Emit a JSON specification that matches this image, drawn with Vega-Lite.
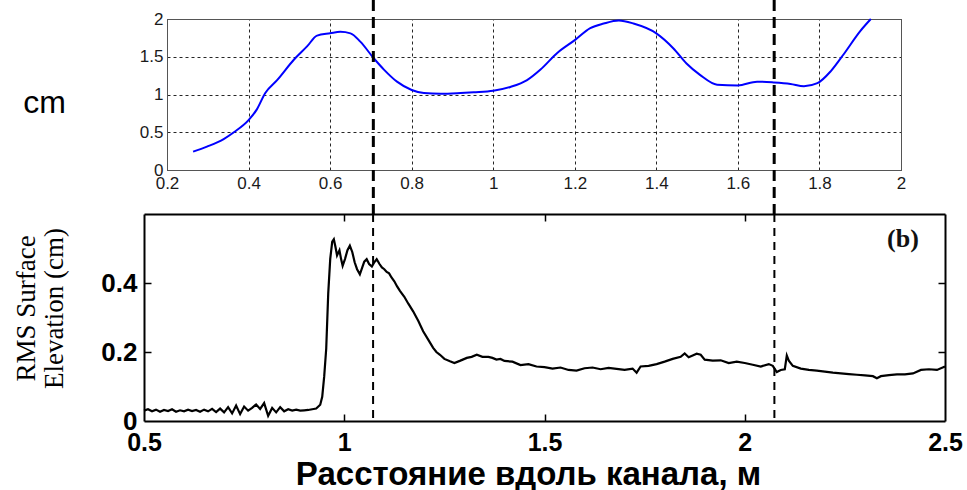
{
  "$schema": "https://vega.github.io/schema/vega-lite/v6.json",
  "width": 967,
  "height": 490,
  "autosize": {"type": "none"},
  "padding": 0,
  "background": "white",
  "config": {"view": {"stroke": null}},
  "datasets": {
    "top": [
      {"x": 0.264, "y": 0.243}, {"x": 0.298, "y": 0.31}, {"x": 0.339, "y": 0.41}, {"x": 0.364, "y": 0.5},
      {"x": 0.4, "y": 0.66}, {"x": 0.42, "y": 0.8}, {"x": 0.441, "y": 1.02}, {"x": 0.47, "y": 1.19},
      {"x": 0.511, "y": 1.46}, {"x": 0.544, "y": 1.64}, {"x": 0.568, "y": 1.78}, {"x": 0.6, "y": 1.81},
      {"x": 0.625, "y": 1.83}, {"x": 0.65, "y": 1.81}, {"x": 0.674, "y": 1.7}, {"x": 0.707, "y": 1.48},
      {"x": 0.732, "y": 1.33}, {"x": 0.764, "y": 1.17}, {"x": 0.8, "y": 1.06}, {"x": 0.83, "y": 1.02},
      {"x": 0.871, "y": 1.01}, {"x": 0.92, "y": 1.02}, {"x": 0.952, "y": 1.03}, {"x": 1.0, "y": 1.05},
      {"x": 1.042, "y": 1.1}, {"x": 1.083, "y": 1.19}, {"x": 1.116, "y": 1.33}, {"x": 1.157, "y": 1.55},
      {"x": 1.2, "y": 1.72}, {"x": 1.238, "y": 1.88}, {"x": 1.271, "y": 1.94}, {"x": 1.308, "y": 1.98},
      {"x": 1.344, "y": 1.94}, {"x": 1.4, "y": 1.81}, {"x": 1.442, "y": 1.61}, {"x": 1.474, "y": 1.41},
      {"x": 1.507, "y": 1.26}, {"x": 1.549, "y": 1.13}, {"x": 1.6, "y": 1.12}, {"x": 1.647, "y": 1.17},
      {"x": 1.687, "y": 1.16}, {"x": 1.729, "y": 1.14}, {"x": 1.762, "y": 1.11}, {"x": 1.795, "y": 1.15},
      {"x": 1.828, "y": 1.31}, {"x": 1.859, "y": 1.53}, {"x": 1.9, "y": 1.84}, {"x": 1.926, "y": 2.0}
    ],
    "bottom": [
      {"x": 0.5, "y": 0.03}, {"x": 0.51, "y": 0.034}, {"x": 0.52, "y": 0.028}, {"x": 0.53, "y": 0.033},
      {"x": 0.54, "y": 0.027}, {"x": 0.55, "y": 0.032}, {"x": 0.56, "y": 0.029}, {"x": 0.57, "y": 0.034},
      {"x": 0.58, "y": 0.027}, {"x": 0.59, "y": 0.031}, {"x": 0.6, "y": 0.028}, {"x": 0.61, "y": 0.033},
      {"x": 0.62, "y": 0.029}, {"x": 0.63, "y": 0.032}, {"x": 0.64, "y": 0.027}, {"x": 0.65, "y": 0.033},
      {"x": 0.66, "y": 0.028}, {"x": 0.67, "y": 0.035}, {"x": 0.68, "y": 0.026}, {"x": 0.69, "y": 0.036},
      {"x": 0.7, "y": 0.025}, {"x": 0.71, "y": 0.04}, {"x": 0.72, "y": 0.022}, {"x": 0.73, "y": 0.045},
      {"x": 0.74, "y": 0.02}, {"x": 0.75, "y": 0.042}, {"x": 0.76, "y": 0.03}, {"x": 0.77, "y": 0.038},
      {"x": 0.78, "y": 0.048}, {"x": 0.79, "y": 0.035}, {"x": 0.8, "y": 0.052}, {"x": 0.81, "y": 0.015},
      {"x": 0.82, "y": 0.038}, {"x": 0.83, "y": 0.025}, {"x": 0.84, "y": 0.04}, {"x": 0.85, "y": 0.028},
      {"x": 0.86, "y": 0.034}, {"x": 0.87, "y": 0.03}, {"x": 0.88, "y": 0.033}, {"x": 0.89, "y": 0.03},
      {"x": 0.9, "y": 0.031}, {"x": 0.91, "y": 0.032}, {"x": 0.92, "y": 0.034}, {"x": 0.93, "y": 0.036},
      {"x": 0.94, "y": 0.047}, {"x": 0.945, "y": 0.07}, {"x": 0.95, "y": 0.13}, {"x": 0.955, "y": 0.21},
      {"x": 0.96, "y": 0.37}, {"x": 0.965, "y": 0.47}, {"x": 0.97, "y": 0.52}, {"x": 0.974, "y": 0.527},
      {"x": 0.978, "y": 0.505}, {"x": 0.982, "y": 0.48}, {"x": 0.988, "y": 0.495}, {"x": 0.992, "y": 0.47},
      {"x": 0.996, "y": 0.45}, {"x": 1.002, "y": 0.47}, {"x": 1.008, "y": 0.495}, {"x": 1.014, "y": 0.508},
      {"x": 1.02, "y": 0.49}, {"x": 1.026, "y": 0.46}, {"x": 1.032, "y": 0.44}, {"x": 1.039, "y": 0.425},
      {"x": 1.045, "y": 0.445}, {"x": 1.05, "y": 0.462}, {"x": 1.056, "y": 0.469}, {"x": 1.062, "y": 0.455},
      {"x": 1.069, "y": 0.448}, {"x": 1.075, "y": 0.46}, {"x": 1.081, "y": 0.469}, {"x": 1.088, "y": 0.455},
      {"x": 1.094, "y": 0.445}, {"x": 1.1, "y": 0.44}, {"x": 1.106, "y": 0.432}, {"x": 1.112, "y": 0.428},
      {"x": 1.118, "y": 0.416}, {"x": 1.125, "y": 0.405}, {"x": 1.132, "y": 0.39}, {"x": 1.139, "y": 0.377},
      {"x": 1.15, "y": 0.36}, {"x": 1.16, "y": 0.34}, {"x": 1.172, "y": 0.318}, {"x": 1.185, "y": 0.29},
      {"x": 1.197, "y": 0.26}, {"x": 1.21, "y": 0.235}, {"x": 1.222, "y": 0.212}, {"x": 1.23, "y": 0.2},
      {"x": 1.239, "y": 0.192}, {"x": 1.25, "y": 0.18}, {"x": 1.264, "y": 0.173}, {"x": 1.275, "y": 0.168},
      {"x": 1.29, "y": 0.175}, {"x": 1.306, "y": 0.183}, {"x": 1.318, "y": 0.186}, {"x": 1.331, "y": 0.192},
      {"x": 1.345, "y": 0.186}, {"x": 1.36, "y": 0.186}, {"x": 1.37, "y": 0.183}, {"x": 1.38, "y": 0.178},
      {"x": 1.39, "y": 0.18}, {"x": 1.4, "y": 0.174}, {"x": 1.42, "y": 0.172}, {"x": 1.44, "y": 0.162},
      {"x": 1.46, "y": 0.165}, {"x": 1.48, "y": 0.158}, {"x": 1.5, "y": 0.156}, {"x": 1.52, "y": 0.152},
      {"x": 1.54, "y": 0.155}, {"x": 1.56, "y": 0.148}, {"x": 1.58, "y": 0.146}, {"x": 1.6, "y": 0.153},
      {"x": 1.62, "y": 0.155}, {"x": 1.64, "y": 0.15}, {"x": 1.66, "y": 0.154}, {"x": 1.68, "y": 0.151},
      {"x": 1.7, "y": 0.148}, {"x": 1.72, "y": 0.152}, {"x": 1.73, "y": 0.14}, {"x": 1.74, "y": 0.158},
      {"x": 1.76, "y": 0.16}, {"x": 1.78, "y": 0.165}, {"x": 1.8, "y": 0.172}, {"x": 1.82, "y": 0.18},
      {"x": 1.84, "y": 0.186}, {"x": 1.85, "y": 0.196}, {"x": 1.86, "y": 0.185}, {"x": 1.87, "y": 0.19},
      {"x": 1.88, "y": 0.195}, {"x": 1.89, "y": 0.192}, {"x": 1.9, "y": 0.178}, {"x": 1.92, "y": 0.175},
      {"x": 1.94, "y": 0.176}, {"x": 1.96, "y": 0.168}, {"x": 1.98, "y": 0.172}, {"x": 2.0, "y": 0.168},
      {"x": 2.02, "y": 0.163}, {"x": 2.04, "y": 0.158}, {"x": 2.06, "y": 0.165}, {"x": 2.07, "y": 0.16},
      {"x": 2.08, "y": 0.142}, {"x": 2.09, "y": 0.148}, {"x": 2.1, "y": 0.15}, {"x": 2.105, "y": 0.19},
      {"x": 2.11, "y": 0.175}, {"x": 2.12, "y": 0.16}, {"x": 2.14, "y": 0.152}, {"x": 2.16, "y": 0.148},
      {"x": 2.18, "y": 0.146}, {"x": 2.2, "y": 0.143}, {"x": 2.22, "y": 0.14}, {"x": 2.24, "y": 0.138},
      {"x": 2.26, "y": 0.136}, {"x": 2.28, "y": 0.134}, {"x": 2.3, "y": 0.132}, {"x": 2.32, "y": 0.13},
      {"x": 2.33, "y": 0.124}, {"x": 2.34, "y": 0.13}, {"x": 2.36, "y": 0.133}, {"x": 2.38, "y": 0.135},
      {"x": 2.4, "y": 0.135}, {"x": 2.42, "y": 0.138}, {"x": 2.44, "y": 0.148}, {"x": 2.46, "y": 0.15},
      {"x": 2.48, "y": 0.148}, {"x": 2.5, "y": 0.158}
    ],
    "rulesTop": [
      {"x": 0.706, "y": 2.252, "y2": -0.583},
      {"x": 1.689, "y": 2.252, "y2": -0.583}
    ],
    "rulesBottom": [
      {"x": 1.072, "y": 0.6, "y2": 0},
      {"x": 2.074, "y": 0.6, "y2": 0}
    ],
    "panelLabel": [{"x": 2.395, "y": 0.527, "label": "(b)"}]
  },
  "layer": [
    {
      "layer": [
        {
          "data": {"name": "top"},
          "mark": {"type": "line", "color": "#0000ff", "strokeWidth": 2, "interpolate": "monotone"},
          "encoding": {
            "x": {
              "field": "x", "type": "quantitative",
              "scale": {"domain": [0.2, 2], "range": [167, 901], "nice": false, "zero": false},
              "axis": {
                "orient": "bottom", "offset": -320, "values": [0.2, 0.4, 0.6, 0.8, 1, 1.2, 1.4, 1.6, 1.8, 2],
                "format": "~g", "title": null, "grid": false, "domainColor": "#555", "domainWidth": 1,
                "ticks": false, "labelPadding": 5, "labelFont": "Liberation Sans", "labelFontSize": 17,
                "labelColor": "#1a1a1a", "labelFlush": false, "labelOverlap": false
              }
            },
            "y": {
              "field": "y", "type": "quantitative",
              "scale": {"domain": [0, 2], "range": [170, 19], "nice": false, "zero": false},
              "axis": {
                "orient": "left", "offset": -167, "values": [0, 0.5, 1, 1.5, 2], "format": "~g",
                "grid": true, "gridColor": "#000", "gridDash": [3, 3], "gridWidth": 1, "gridOpacity": 0.85,
                "domainColor": "#555", "domainWidth": 1, "ticks": false, "labelPadding": 4,
                "labelFont": "Liberation Sans", "labelFontSize": 17, "labelColor": "#1a1a1a",
                "labelFlush": false, "labelOverlap": false,
                "title": "cm", "titleAngle": 0, "titleX": -123, "titleY": 112, "titleAlign": "center",
                "titleBaseline": "alphabetic", "titleFont": "Liberation Sans", "titleFontSize": 32,
                "titleFontWeight": "normal", "titleColor": "#000"
              }
            }
          }
        },
        {
          "data": {"name": "rulesTop"},
          "mark": {"type": "rule", "color": "#000", "strokeWidth": 3, "strokeDash": [11, 6]},
          "encoding": {
            "x": {
              "field": "x", "type": "quantitative",
              "axis": {"orient": "top", "offset": -19, "values": [0.2, 0.4, 0.6, 0.8, 1, 1.2, 1.4, 1.6, 1.8, 2],
                       "labels": false, "ticks": false, "grid": true, "gridColor": "#000", "gridDash": [3, 3],
                       "gridWidth": 1, "gridOpacity": 0.85,
                       "title": null, "domainColor": "#555", "domainWidth": 1}
            },
            "y": {
              "field": "y", "type": "quantitative",
              "axis": {"orient": "right", "offset": -66, "labels": false, "ticks": false, "grid": false,
                       "title": null, "domainColor": "#555", "domainWidth": 1}
            },
            "y2": {"field": "y2"}
          }
        }
      ],
      "resolve": {"axis": {"x": "independent", "y": "independent"}}
    },
    {
      "layer": [
        {
          "data": {"name": "bottom"},
          "mark": {"type": "line", "color": "#000", "strokeWidth": 2.2},
          "encoding": {
            "x": {
              "field": "x", "type": "quantitative",
              "scale": {"domain": [0.5, 2.5], "range": [144, 945], "nice": false, "zero": false},
              "axis": {
                "orient": "bottom", "offset": -69, "values": [0.5, 1, 1.5, 2, 2.5], "format": "~g",
                "grid": false, "domainColor": "#000", "domainWidth": 2, "ticks": false, "tickSize": 0,
                "labelPadding": 9, "labelFont": "Liberation Sans", "labelFontWeight": "bold",
                "labelFontSize": 25, "labelColor": "#000", "labelFlush": false, "labelOverlap": false,
                "title": "Расстояние вдоль канала, м", "titleFont": "Liberation Sans", "titleFontSize": 33,
                "titleFontWeight": "bold", "titleColor": "#000", "titleX": 528, "titleY": 63,
                "titleAlign": "center", "titleBaseline": "alphabetic"
              }
            },
            "y": {
              "field": "y", "type": "quantitative",
              "scale": {"domain": [0, 0.6], "range": [421, 214], "nice": false, "zero": false},
              "axis": {
                "orient": "left", "offset": -144, "values": [0, 0.2, 0.4], "format": "~g",
                "grid": false, "domainColor": "#000", "domainWidth": 2, "ticks": false, "tickSize": 0,
                "labelPadding": 7, "labelFont": "Liberation Sans", "labelFontWeight": "bold",
                "labelFontSize": 26, "labelColor": "#000", "labelFlush": false, "labelOverlap": false,
                "title": ["RMS Surface", "Elevation (cm)"], "titleFont": "Liberation Serif", "titleFontSize": 27,
                "titleFontWeight": "normal", "titleColor": "#000", "titleAngle": -90, "titleX": -118,
                "titleY": 308, "titleAlign": "center", "titleBaseline": "middle", "titleLineHeight": 28
              }
            }
          }
        },
        {
          "data": {"name": "rulesBottom"},
          "mark": {"type": "rule", "color": "#000", "strokeWidth": 2, "strokeDash": [8, 6]},
          "encoding": {
            "x": {
              "field": "x", "type": "quantitative",
              "axis": {"orient": "bottom", "offset": -276, "values": [1, 1.5, 2], "labels": false, "tickSize": 7,
                       "tickColor": "#000", "tickWidth": 1.5, "grid": false, "title": null,
                       "domainColor": "#000", "domainWidth": 2}
            },
            "y": {
              "field": "y", "type": "quantitative",
              "axis": {"orient": "left", "offset": -945, "values": [0.2, 0.4], "labels": false, "tickSize": 7,
                       "tickColor": "#000", "tickWidth": 1.5, "grid": false, "title": null,
                       "domainColor": "#000", "domainWidth": 2}
            },
            "y2": {"field": "y2"}
          }
        },
        {
          "data": {"name": "panelLabel"},
          "mark": {"type": "text", "font": "Liberation Serif", "fontSize": 26, "fontWeight": "bold", "color": "#111",
                   "align": "center", "baseline": "middle"},
          "encoding": {
            "x": {
              "field": "x", "type": "quantitative",
              "axis": {"orient": "top", "offset": -421, "values": [1, 1.5, 2], "labels": false, "tickSize": 7,
                       "tickColor": "#000", "tickWidth": 1.5, "grid": false, "title": null, "domain": false}
            },
            "y": {
              "field": "y", "type": "quantitative",
              "axis": {"orient": "right", "offset": -823, "values": [0.2, 0.4], "labels": false, "tickSize": 7,
                       "tickColor": "#000", "tickWidth": 1.5, "grid": false, "title": null, "domain": false}
            },
            "text": {"field": "label"}
          }
        }
      ],
      "resolve": {"axis": {"x": "independent", "y": "independent"}}
    }
  ],
  "resolve": {
    "scale": {"x": "independent", "y": "independent"},
    "axis": {"x": "independent", "y": "independent"}
  }
}
